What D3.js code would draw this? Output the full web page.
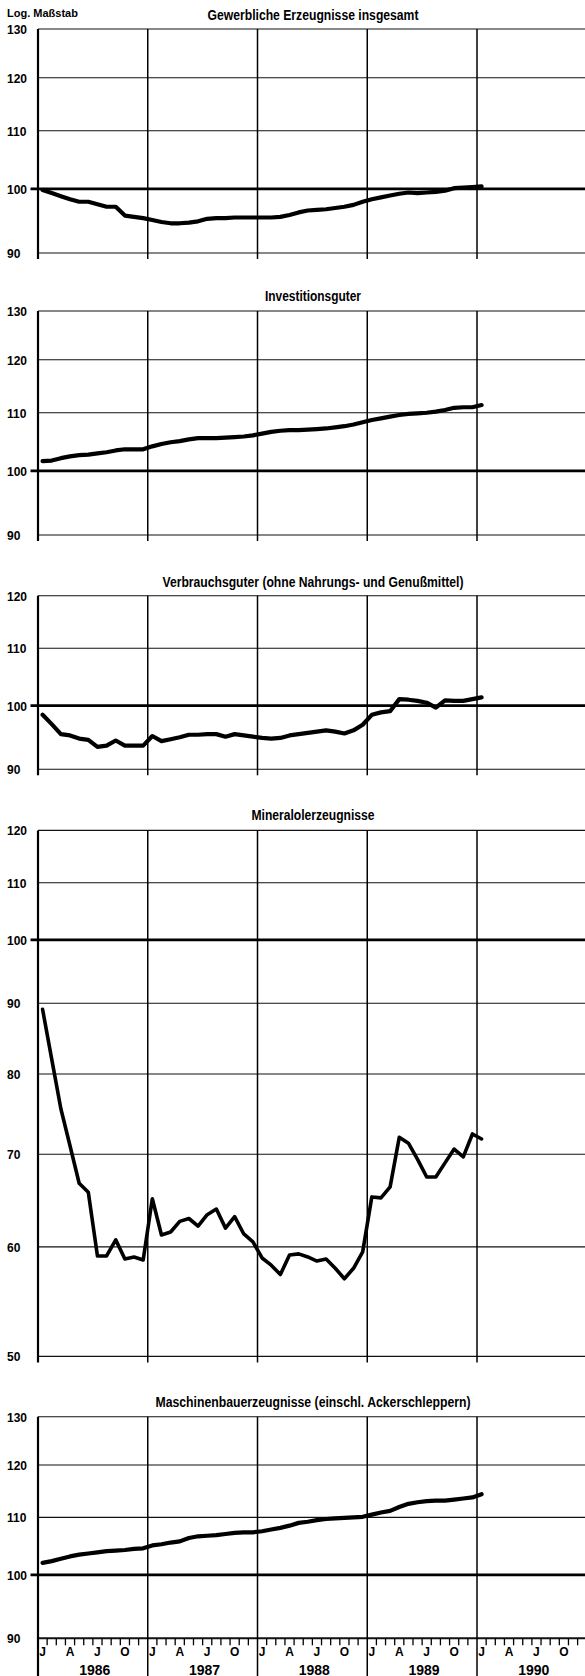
<!DOCTYPE html>
<html><head><meta charset="utf-8">
<script src="https://cdn.jsdelivr.net/npm/d3@7"></script>
<style>
body{margin:0;background:#fff}
svg{display:block}
text{font-family:'Liberation Sans',Arial,sans-serif;font-weight:bold;fill:#000}
</style>
</head><body>
<svg id="c" width="585" height="1676"></svg>
<script>
// ---- data (monthly, Jan 1986 – Jan 1990, log scale) ----
const years = ["1986", "1987", "1988", "1989", "1990"];
const monthLabels = ["J", "A", "J", "O"];
const monthLabelMonths = [0, 3, 6, 9];
const axisNote = "Log. Maßstab";

const titles = [
  "Gewerbliche Erzeugnisse insgesamt",
  "Investitionsguter",
  "Verbrauchsguter (ohne Nahrungs- und Genußmittel)",
  "Mineralolerzeugnisse",
  "Maschinenbauerzeugnisse (einschl. Ackerschleppern)"
];

const ticksA = [90, 100, 110, 120, 130];
const ticksB = [90, 100, 110, 120];
const ticksC = [50, 60, 70, 80, 90, 100, 110, 120];

const gewerbe = [99.8, 99.3, 98.8, 98.3, 97.9, 97.9, 97.5, 97.1, 97.1, 95.7, 95.5, 95.3,
  95.0, 94.7, 94.5, 94.5, 94.6, 94.8, 95.2, 95.3, 95.3, 95.4, 95.4, 95.4,
  95.4, 95.4, 95.5, 95.8, 96.2, 96.5, 96.6, 96.7, 96.9, 97.1, 97.4, 97.9,
  98.3, 98.6, 98.9, 99.2, 99.4, 99.3, 99.4, 99.5, 99.7, 100.1, 100.2, 100.3, 100.4];

const invest = [101.6, 101.7, 102.1, 102.4, 102.6, 102.7, 102.9, 103.1, 103.4, 103.6, 103.6, 103.6,
  104.1, 104.5, 104.8, 105.0, 105.3, 105.5, 105.5, 105.5, 105.6, 105.7, 105.8, 106.0,
  106.3, 106.6, 106.8, 106.9, 106.9, 107.0, 107.1, 107.2, 107.4, 107.6, 107.9, 108.3,
  108.7, 109.0, 109.3, 109.6, 109.8, 109.9, 110.0, 110.2, 110.5, 110.9, 111.0, 111.0, 111.4];

const verbrauch = [98.5, 97.0, 95.4, 95.2, 94.7, 94.5, 93.4, 93.6, 94.4, 93.6, 93.6, 93.6,
  95.1, 94.3, 94.6, 94.9, 95.3, 95.3, 95.4, 95.4, 95.0, 95.4, 95.2, 95.0,
  94.8, 94.7, 94.8, 95.2, 95.4, 95.6, 95.8, 96.0, 95.8, 95.5, 96.0, 96.9,
  98.5, 98.9, 99.1, 101.1, 101.0, 100.8, 100.5, 99.7, 100.9, 100.8, 100.8, 101.1, 101.4];

const mineral = [89.1, 82.0, 75.5, 71.0, 66.7, 65.7, 59.1, 59.1, 60.7, 58.8, 59.0, 58.7,
  65.0, 61.2, 61.5, 62.6, 62.9, 62.1, 63.3, 63.9, 61.9, 63.1, 61.3, 60.5,
  58.9, 58.2, 57.3, 59.2, 59.3, 59.0, 58.6, 58.8, 57.9, 56.9, 57.9, 59.5,
  65.2, 65.1, 66.3, 72.0, 71.3, 69.4, 67.4, 67.4, 69.0, 70.6, 69.7, 72.4, 71.8];

const maschinen = [102.0, 102.3, 102.7, 103.1, 103.4, 103.6, 103.8, 104.0, 104.1, 104.2, 104.4, 104.5,
  105.0, 105.2, 105.5, 105.7, 106.3, 106.6, 106.7, 106.8, 107.0, 107.2, 107.3, 107.3,
  107.5, 107.8, 108.1, 108.5, 109.0, 109.2, 109.5, 109.7, 109.8, 109.9, 110.0, 110.1,
  110.5, 110.9, 111.2, 111.9, 112.5, 112.8, 113.0, 113.1, 113.1, 113.3, 113.5, 113.7, 114.3];

// ---- layout ----
const svg = d3.select("#c");
const x = d3.scaleLinear().domain([0, 60]).range([38, 38 + 60 * 9.146]);
const right = 585;

const panels = [
  {title: titles[0], data: gewerbe,   ticks: ticksA, top: 29,    bottom: 253,    titleY: 20,    tw: 211, sw: 4.2},
  {title: titles[1], data: invest,    ticks: ticksA, top: 311,   bottom: 535,    titleY: 300.5, tw: 96,  sw: 4.2},
  {title: titles[2], data: verbrauch, ticks: ticksB, top: 595.7, bottom: 769.3,  titleY: 587,   tw: 301, sw: 4.2},
  {title: titles[3], data: mineral,   ticks: ticksC, top: 830.4, bottom: 1356.4, titleY: 819.5, tw: 123, sw: 3.6},
  {title: titles[4], data: maschinen, ticks: ticksA, top: 1416.7, bottom: 1638.3, titleY: 1406.5, tw: 315, sw: 4.2}
];

svg.append("text").attr("x", 7).attr("y", 16.5).attr("font-size", 11).text(axisNote);

panels.forEach((p, pi) => {
  const lo = d3.min(p.ticks), hi = d3.max(p.ticks);
  const y = d3.scaleLog().domain([lo, hi]).range([p.bottom, p.top]);
  const g = svg.append("g");
  const last = pi === panels.length - 1;

  // horizontal grid lines
  g.selectAll("line.h").data(p.ticks.filter(t => t !== 100)).join("line")
    .attr("x1", x(0)).attr("x2", right)
    .attr("y1", d => y(d)).attr("y2", d => y(d))
    .attr("stroke", "#111").attr("stroke-width", d => (last && d === lo) ? 2 : 1.1);

  // vertical year lines
  const vbottom = last ? 1676 : p.bottom + 6;
  g.selectAll("line.v").data([0, 12, 24, 36, 48]).join("line")
    .attr("x1", d => x(d)).attr("x2", d => x(d))
    .attr("y1", p.top).attr("y2", vbottom)
    .attr("stroke", "#000").attr("stroke-width", d => d === 0 ? 2.2 : 1.5);

  // 100 reference line
  g.append("line").attr("x1", 30.5).attr("x2", right)
    .attr("y1", y(100)).attr("y2", y(100))
    .attr("stroke", "#000").attr("stroke-width", 2.8);

  // y tick labels via axis
  const ax = d3.axisLeft(y).tickValues(p.ticks).tickSize(0).tickFormat(d3.format("d"));
  const axg = g.append("g").attr("transform", "translate(7,0)").call(ax);
  axg.select(".domain").remove();
  axg.selectAll("text").attr("x", 0).attr("text-anchor", "start")
    .attr("dy", "0.36em").attr("font-size", 12)
    .style("font-family", "'Liberation Sans',Arial,sans-serif").style("font-weight", "bold").attr("fill", "#000");

  // title (condensed to the printed width)
  g.append("text").attr("x", 313).attr("y", p.titleY)
    .attr("text-anchor", "middle").attr("font-size", 14)
    .attr("textLength", p.tw).attr("lengthAdjust", "spacingAndGlyphs")
    .text(p.title);

  // series line
  const line = d3.line().x((d, i) => x(i + 0.5)).y(d => y(d));
  g.append("path").datum(p.data).attr("d", line)
    .attr("fill", "none").attr("stroke", "#000").attr("stroke-width", p.sw)
    .attr("stroke-linejoin", "round").attr("stroke-linecap", "round");

  if (last) {
    // month ticks
    const mt = d3.range(0, 61).filter(m => m % 12 !== 0);
    g.selectAll("line.mt").data(mt).join("line")
      .attr("x1", d => x(d)).attr("x2", d => x(d))
      .attr("y1", p.bottom).attr("y2", p.bottom + 7)
      .attr("stroke", "#000").attr("stroke-width", 1.3);
    // month letters
    const ml = [];
    years.forEach((yr, yi) => monthLabels.forEach((m, k) => ml.push({t: m, m: yi * 12 + monthLabelMonths[k] + 0.5})));
    g.selectAll("text.ml").data(ml).join("text")
      .attr("x", d => x(d.m)).attr("y", 1655.5).attr("text-anchor", "middle")
      .attr("font-size", 12).text(d => d.t);
    g.selectAll("text.yr").data(years).join("text")
      .attr("x", (d, i) => x(i * 12 + 6.2)).attr("y", 1674.5).attr("text-anchor", "middle")
      .attr("font-size", 14).text(d => d);
  }
});
</script>
</body></html>
